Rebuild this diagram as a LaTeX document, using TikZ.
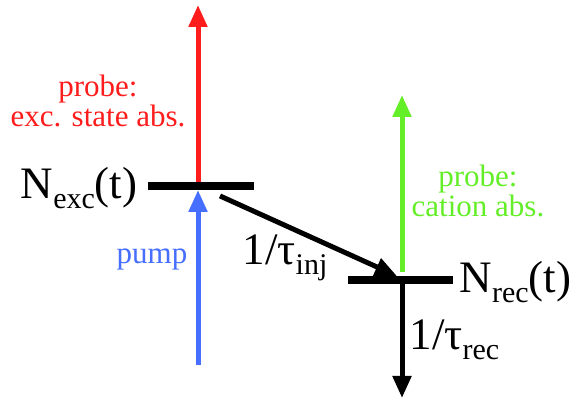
\documentclass[tikz,border=0pt]{standalone}
\usepackage{fontspec}
\setmainfont{Liberation Serif}
\usetikzlibrary{arrows.meta}
\definecolor{probered}{RGB}{255,28,28}
\definecolor{pumpblue}{RGB}{70,110,255}
\definecolor{probegreen}{RGB}{100,238,40}
\newcommand{\lvlsub}[1]{\raisebox{-0.22em}{\fontsize{30}{30}\selectfont #1}}
\tikzset{
  level/.style={fill=black, inner sep=0pt, minimum height=7.5pt},
  big/.style={font=\fontsize{45}{45}\selectfont},
  small/.style={font=\fontsize{31}{30}\selectfont, align=center},
  trans/.style={line width=5pt, -{Triangle[width=18pt,length=22pt]}}
}
\begin{document}
\begin{tikzpicture}[x=1pt, y=1pt]
        \useasboundingbox (0,0) rectangle (576,403);
        % 能级
        \node[level, minimum width=106pt] (exc) at (201,217) {};
        \node[level, minimum width=105pt] (rec) at (400,123) {};
        \node[big, anchor=east] (nexc) at (141,215) {N\lvlsub{exc}(t)};
        \node[big, anchor=west] (nrec) at (456,121) {N\lvlsub{rec}(t)};

        % 端点
        \coordinate (redtop) at (198,398);
        \coordinate (pumpbot) at (198,38);
        \coordinate (greentop) at (402,308);
        \coordinate (recbot) at (402,5);

        % 泵浦与探测
        \draw[trans, pumpblue] (pumpbot) -- ([xshift=-3pt]exc.south);
        \draw[trans, probered] ([xshift=-3pt]exc.north) -- (redtop);
        \draw[trans, probegreen] ([xshift=2pt,yshift=4pt]rec.north) -- (greentop);
        \node[small, text=pumpblue] (pump) at (152,143) {pump};
        \node[small, text=probered] (esa) at (98,302) {probe:\\exc. state abs.};
        \node[small, text=probegreen] (cat) at (478,212) {probe:\\cation abs.};

        % 注入与复合
        \draw[trans, black] ([xshift=19pt,yshift=-6pt]exc.south) -- ([xshift=-3pt]rec.north);
        \draw[trans, black] ([xshift=2pt]rec.south) -- (recbot);
        \node[big] (tinj) at (285,145) {1/τ\lvlsub{inj}};
        \node[big, anchor=west] (trec) at (406,63) {1/τ\lvlsub{rec}};
    \end{tikzpicture}
\end{document}
